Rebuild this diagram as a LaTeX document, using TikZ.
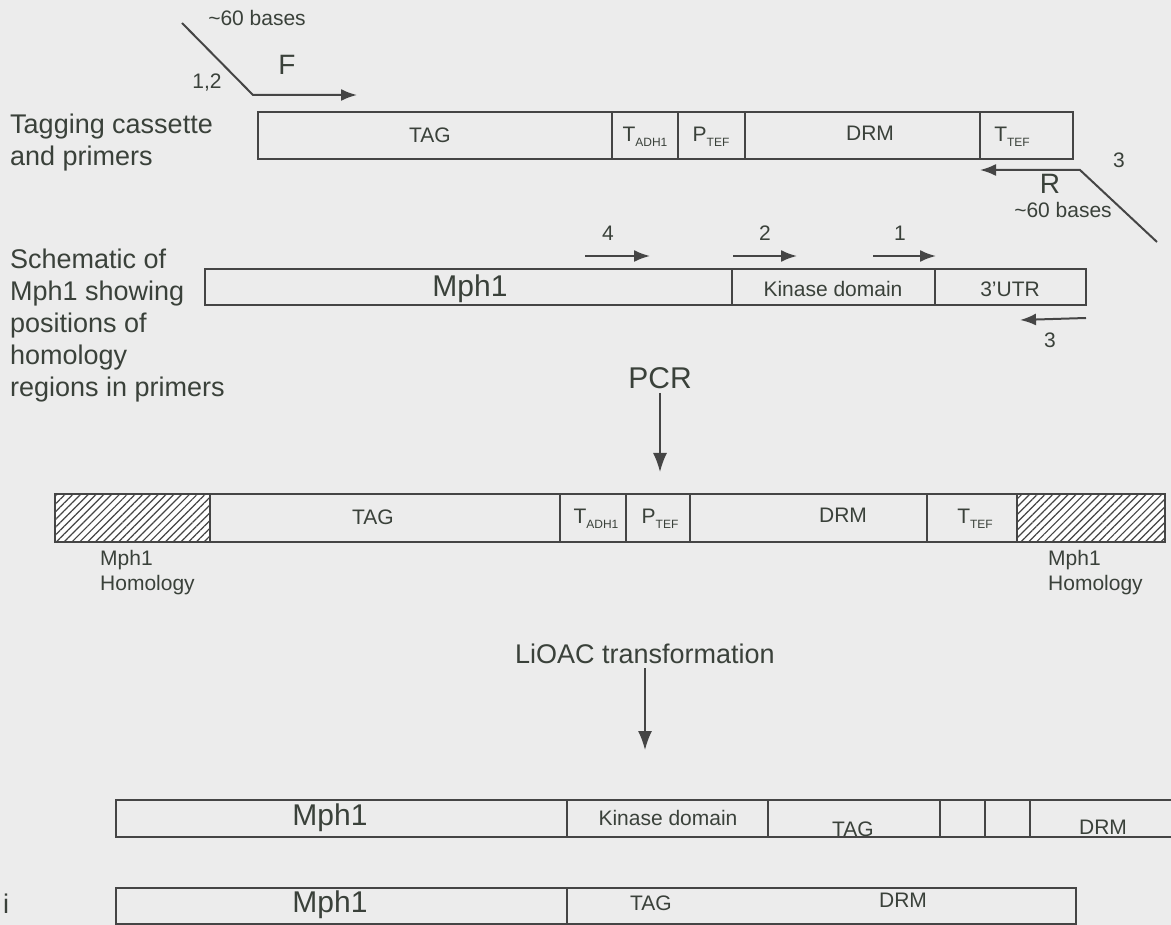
\documentclass[tikz,border=0pt]{standalone}
\usepackage{fontspec}
\setmainfont{Liberation Sans}
\usetikzlibrary{arrows.meta,patterns.meta}

\newcommand{\lowsub}[1]{\raisebox{-0.45ex}{\fontsize{12}{12}\selectfont #1}}

\begin{document}
\begin{tikzpicture}[x=1pt, y=-1pt,
    seg/.style={draw=lineColour, line width=1.5pt},
    lbl/.style={text=inkColour, font=\fontsize{21}{25}\selectfont, inner sep=0pt},
    sidelbl/.style={text=inkColour, font=\fontsize{27}{32}\selectfont, inner sep=0pt, align=left, anchor=west},
    genelbl/.style={text=inkColour, font=\fontsize{30}{34}\selectfont, inner sep=0pt},
    primerlbl/.style={text=inkColour, font=\fontsize{28}{32}\selectfont, inner sep=0pt},
    primer/.style={draw=lineColour, line width=2pt, -{Latex[length=16pt,width=12pt]}},
    flow/.style={draw=lineColour, line width=1.7pt, -{Latex[length=19pt,width=14pt]}, shorten <=4pt},
    hatch/.style={seg, fill=white, postaction={pattern={Lines[angle=45,distance=5.5pt,line width=1.2pt]},pattern color=lineColour}}]

    \definecolor{lineColour}{HTML}{454545}
    \definecolor{inkColour}{HTML}{3A413A}
    \definecolor{bgColour}{HTML}{ECECEC}

    % Page
    \fill[bgColour] (0,0) rectangle (1171,925);
    \useasboundingbox (0,0) rectangle (1171,925);

    % Tagging cassette and primers
    \node[sidelbl] (cassetteLbl) at (10,143) {Tagging cassette\\and primers};

    \coordinate (fStart) at (182,23);
    \coordinate (fBend) at (253,95);
    \coordinate (fTip) at (357,95);
    \draw[primer] (fStart) -- (fBend) -- (fTip);
    \node[lbl] (fBases) at (257,18) {\textasciitilde60 bases};
    \node[primerlbl] (fName) at (287,65) {F};
    \node[lbl] (fNum) at (207,83) {1,2};

    \draw[seg] (258,112) rectangle (1073,159);
    \foreach \x in {612,678,745,980}
        \draw[seg] (\x,112) -- (\x,159);
    \node[lbl] (cTag) at (430,135) {TAG};
    \node[lbl] (cTadh) at (645,137) {T\lowsub{ADH1}};
    \node[lbl] (cPtef) at (711,137) {P\lowsub{TEF}};
    \node[lbl] (cDrm) at (870,133) {DRM};
    \node[lbl] (cTtef) at (1012,137) {T\lowsub{TEF}};

    \coordinate (rStart) at (1157,242);
    \coordinate (rBend) at (1080,170);
    \coordinate (rTip) at (980,170);
    \draw[primer] (rStart) -- (rBend) -- (rTip);
    \node[lbl] (rNum) at (1119,160) {3};
    \node[primerlbl] (rName) at (1050,184) {R};
    \node[lbl] (rBases) at (1063,210) {\textasciitilde60 bases};

    % Schematic of Mph1
    \node[sidelbl] (schemeLbl) at (10,326) {Schematic of\\Mph1 showing\\positions of\\homology\\regions in primers};

    \draw[seg] (205,269) rectangle (1086,305);
    \foreach \x in {732,935}
        \draw[seg] (\x,269) -- (\x,305);
    \node[genelbl] (mMph) at (470,289) {Mph1};
    \node[lbl] (mKinase) at (833,289) {Kinase domain};
    \node[lbl] (mUtr) at (1010,289) {3'UTR};

    \foreach \n/\a/\b/\l in {4/585/650/608, 2/733/797/765, 1/873/936/900}{
        \coordinate (p\n a) at (\a,256);
        \coordinate (p\n b) at (\b,256);
        \draw[primer] (p\n a) -- (p\n b);
        \node[lbl] (p\n) at (\l,233) {\n};
    }
    \coordinate (p3a) at (1086,318);
    \coordinate (p3b) at (1020,320);
    \draw[primer] (p3a) -- (p3b);
    \node[lbl] (p3) at (1050,340) {3};

    % PCR product
    \node[genelbl] (pcr) at (660,378) {PCR};
    \coordinate (pcrEnd) at (660,472);
    \draw[flow] (pcr) -- (pcrEnd);

    \draw[hatch] (55,494) rectangle (210,542);
    \draw[hatch] (1017,494) rectangle (1165,542);
    \draw[seg] (210,494) rectangle (1017,542);
    \foreach \x in {560,626,690,927}
        \draw[seg] (\x,494) -- (\x,542);
    \node[lbl] (pTag) at (373,517) {TAG};
    \node[lbl] (pTadh) at (596,519) {T\lowsub{ADH1}};
    \node[lbl] (pPtef) at (660,519) {P\lowsub{TEF}};
    \node[lbl] (pDrm) at (843,515) {DRM};
    \node[lbl] (pTtef) at (975,519) {T\lowsub{TEF}};
    \node[lbl, align=left, anchor=north west] (homLeft) at (100,550) {Mph1\\Homology};
    \node[lbl, align=left, anchor=north west] (homRight) at (1048,550) {Mph1\\Homology};

    % Transformation
    \node[genelbl, font=\fontsize{27}{32}\selectfont] (lioac) at (645,654) {LiOAC transformation};
    \coordinate (lioacEnd) at (645,750);
    \draw[flow] (lioac) -- (lioacEnd);

    % Tagged alleles
    \draw[seg] (1171,800) -- (116,800) -- (116,837) -- (1171,837);
    \foreach \x in {567,768,940,985,1030}
        \draw[seg] (\x,800) -- (\x,837);
    \node[genelbl] (aMph) at (330,818) {Mph1};
    \node[lbl] (aKinase) at (668,818) {Kinase domain};
    \node[lbl] (aTag) at (853,829) {TAG};
    \node[lbl] (aDrm) at (1103,827) {DRM};

    \draw[seg] (116,888) rectangle (1076,924);
    \draw[seg] (567,888) -- (567,924);
    \node[lbl, font=\fontsize{27}{32}\selectfont] (bNum) at (6,904) {i};
    \node[genelbl] (bMph) at (330,905) {Mph1};
    \node[lbl] (bTag) at (651,903) {TAG};
    \node[lbl] (bDrm) at (903,900) {DRM};

\end{tikzpicture}
\end{document}
